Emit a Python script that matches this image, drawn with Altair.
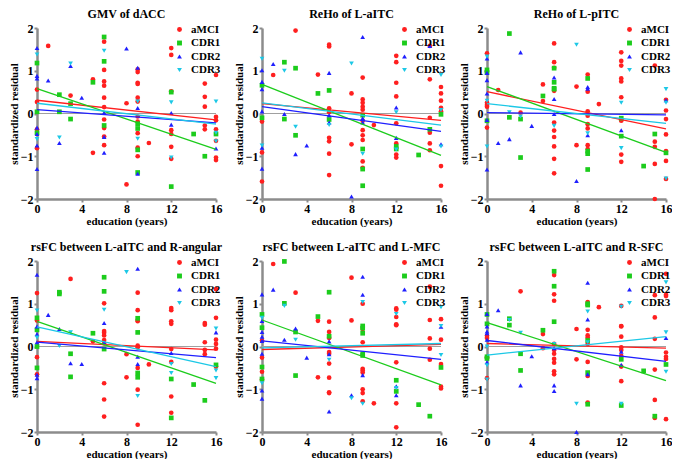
import altair as alt
import pandas as pd

groups = ["aMCI", "CDR1", "CDR2", "CDR3"]
colors = ["#ff1f1f", "#1ccc1c", "#1f1fff", "#1cc8e6"]
shapes = ["circle", "square", "triangle-up", "triangle-down"]
titles = ["GMV of dACC", "ReHo of L-aITC", "ReHo of L-pITC",
          "rsFC between L-aITC and R-angular", "rsFC between L-aITC and L-MFC",
          "rsFC between L-aITC and R-SFC"]
x_ticks = [0, 4, 8, 12, 16]
y_ticks = [-2, -1, 0, 1, 2]

# ---- Panel 1: GMV of dACC
p1_amci = [(0,0.56),(0,0.27),(0,-0.37),(0,-0.81),(1,1.58),(3,0.42),(5,0.80),(5,-0.92),(6,1.68),(6,1.02),(6,0.75),(6,0.65),(6,0.37),(6,0.15),(6,-0.14),(6,-0.34),(6,-0.54),(6,-0.74),(8,0.24),(8,-1.66),(9,1.03),(9,0.97),(9,0.72),(9,0.69),(9,0.37),(9,0.28),(9,-0.07),(9,-0.19),(9,-0.46),(9,-0.80),(9,-1.0),(10,-0.69),(12,1.53),(12,1.37),(12,0.52),(12,-0.39),(12,-0.48),(12,-0.78),(12,-1.06),(15,0.70),(15,0.39),(15,0.16),(15,-0.28),(15,-0.37),(16,0.90),(16,-0.08),(16,-0.16),(16,-0.37),(16,-0.64),(16,-1.03),(16,-1.09)]
p1_cdr1 = [(0,1.18),(0,0.04),(0,-0.45),(2,0.44),(2,0.04),(3,0.23),(3,-0.13),(5,0.73),(6,1.79),(6,1.22),(6,-0.28),(9,-0.24),(9,-0.35),(9,-0.85),(9,-1.38),(12,0.50),(12,-1.71),(14,-0.48),(15,-1.0),(16,-0.48)]
p1_cdr2 = [(0,1.53),(0,0.88),(0,0.82),(0,-0.33),(0,-0.48),(0,-0.75),(0,-1.30),(1,0.77),(2,-0.69),(3,1.11),(4,0.37),(6,0.02),(6,-0.55),(6,-0.92),(8,1.52),(9,1.07),(9,0.13),(9,-1.41),(12,0.01),(12,-0.26),(16,-0.82)]
p1_cdr3 = [(0,1.38),(0,-0.60),(2,-0.56),(3,1.17),(6,1.47),(9,0.28),(9,-0.59),(12,0.26),(12,-1.03),(16,0.28),(16,-0.45),(16,-0.65)]
p1_fit = {"aMCI": (0.31, -0.15), "CDR1": (0.58, -0.84), "CDR2": (0.09, -0.22), "CDR3": (0.24, -0.25)}

# ---- Panel 2: ReHo of L-aITC
p2_amci = [(0,-0.19),(0,-0.91),(0,-1.59),(1,0.90),(3,1.94),(5,0.91),(6,1.61),(6,1.57),(6,0.12),(6,0.03),(6,-0.57),(6,-0.65),(6,-0.94),(6,-1.44),(8,0.47),(8,-0.72),(9,0.84),(9,0.33),(9,0.25),(9,0.16),(9,0.09),(9,-0.17),(9,-0.39),(9,-0.51),(9,-0.62),(9,-1.12),(9,-1.27),(10,-0.27),(12,1.35),(12,1.20),(12,0.72),(12,0.40),(12,-0.23),(12,-0.70),(12,-0.96),(12,-1.03),(15,1.58),(15,0.80),(15,-0.10),(15,-0.45),(15,-0.70),(15,-0.86),(16,0.62),(16,0.47),(16,0.30),(16,0.13),(16,0.05),(16,-1.23),(16,-1.69)]
p2_cdr1 = [(0,0.66),(0,-0.10),(2,1.20),(2,-0.13),(3,1.06),(3,-0.51),(5,0.47),(6,0.54),(6,-0.14),(9,-0.04),(9,-0.83),(9,-1.30),(9,-1.69),(12,-0.77),(12,-0.83),(14,-0.97),(15,-0.37),(16,-0.02)]
p2_cdr2 = [(0,1.01),(0,0.74),(0,0.57),(0,0.05),(0,-0.80),(0,-1.29),(1,1.16),(2,-0.01),(3,-0.95),(4,-0.75),(6,0.95),(6,-0.04),(6,-0.21),(8,-1.94),(9,1.79),(9,-0.11),(9,-0.21),(12,0.14),(12,-0.57),(15,1.58),(16,-0.72)]
p2_cdr3 = [(0,1.28),(0,-0.75),(2,1.0),(3,-0.31),(6,-0.27),(8,1.17),(9,-0.94),(12,0.03),(12,-0.84),(16,0.90),(16,0.08),(16,-0.77)]
p2_fit = {"aMCI": (0.23, -0.16), "CDR1": (0.68, -0.98), "CDR2": (0.16, -0.42), "CDR3": (0.25, -0.27)}

# ---- Panel 3: ReHo of L-pITC
p3_amci = [(0,1.41),(0,0.25),(0,0.20),(0,0.16),(0,-0.33),(1,0.55),(3,0.02),(5,0.68),(5,0.29),(6,1.64),(6,1.20),(6,1.07),(6,0.53),(6,-0.21),(6,-0.40),(6,-0.55),(6,-0.77),(6,-1.06),(6,-1.40),(8,0.63),(8,-0.74),(9,0.91),(9,0.51),(9,0.05),(9,-0.05),(9,-0.25),(9,-0.35),(9,-0.74),(9,-0.83),(10,0.22),(12,1.43),(12,1.23),(12,1.12),(12,0.82),(12,0.75),(12,0.38),(12,-0.15),(12,-0.17),(12,-0.96),(12,-1.13),(15,1.12),(15,-0.66),(15,-0.78),(15,-1.18),(15,-2.0),(16,0.32),(16,0.07),(16,-0.13),(16,-0.49),(16,-0.88),(16,-1.11),(16,-1.53)]
p3_cdr1 = [(0,1.02),(0,0.96),(0,-0.17),(2,1.87),(2,-0.09),(3,-0.13),(3,-1.03),(5,0.41),(6,1.06),(6,0.73),(6,0.59),(6,0.57),(9,0.82),(9,-0.88),(9,-0.94),(9,-1.31),(12,-0.11),(12,-0.53),(14,-1.23),(15,-0.48),(16,-0.92)]
p3_cdr2 = [(0,1.29),(0,0.95),(0,0.78),(0,0.47),(0,-0.15),(0,-1.31),(1,-0.69),(2,-0.60),(3,1.43),(4,-0.29),(6,0.84),(6,0.34),(6,-0.01),(8,-1.58),(9,0.62),(9,0.58),(9,-0.51),(12,-0.39),(16,0.31)]
p3_cdr3 = [(0,1.33),(0,0.30),(0,-0.77),(2,0.03),(3,-0.07),(6,-0.29),(8,1.61),(9,-0.46),(12,0.25),(12,-0.81),(16,0.57),(16,0.25),(16,-1.52)]
p3_fit = {"aMCI": (0.51, -0.36), "CDR1": (0.63, -0.91), "CDR2": (0.02, -0.03), "CDR3": (0.23, -0.23)}

# ---- Panel 4: rsFC L-aITC / R-angular
p4_amci = [(0,1.25),(0,0.61),(0,-0.25),(0,-0.65),(3,1.58),(5,0.12),(6,1.01),(6,0.36),(6,0.32),(6,0.26),(6,0.15),(6,0.07),(6,-0.86),(6,-1.24),(6,-1.64),(8,-0.18),(8,-0.72),(9,1.26),(9,0.85),(9,0.62),(9,0.59),(9,0.02),(9,-0.02),(9,-0.50),(9,-1.01),(9,-1.83),(10,-0.42),(12,0.90),(12,0.85),(12,0.59),(12,0.53),(12,-0.06),(12,-0.36),(12,-1.17),(12,-1.55),(15,0.55),(15,0.51),(15,0.10),(15,-0.08),(15,-0.18),(16,1.34),(16,0.67),(16,0.16),(16,0.06),(16,-0.05),(16,-0.47)]
p4_cdr1 = [(0,0.67),(0,0.39),(0,0.0),(0,-0.50),(2,1.27),(2,1.23),(3,-0.17),(3,-0.71),(5,0.31),(6,1.62),(6,1.29),(6,-0.06),(9,0.66),(9,0.33),(9,-0.62),(9,-0.72),(12,-0.76),(12,-1.67),(14,-0.89),(15,-1.26),(16,-0.43)]
p4_cdr2 = [(0,1.68),(0,0.47),(0,0.29),(0,0.10),(0,-0.66),(0,-0.74),(1,0.74),(2,0.41),(3,-0.39),(4,-0.41),(6,0.55),(6,0.09),(9,1.82),(9,-0.24),(9,-0.41),(12,-0.15),(16,0.33)]
p4_cdr3 = [(0,0.84),(0,0.21),(2,0.01),(3,0.33),(6,0.86),(8,1.74),(9,-1.16),(12,-0.41),(12,-0.62),(16,0.42),(16,-0.56),(16,-0.74)]
p4_fit = {"aMCI": (0.12, -0.08), "CDR1": (0.59, -0.86), "CDR2": (0.10, -0.26), "CDR3": (0.46, -0.47)}

# ---- Panel 5: rsFC L-aITC / L-MFC
p5_amci = [(0,0.14),(0,-0.26),(0,-0.59),(0,-0.77),(1,1.93),(3,1.26),(5,0.60),(5,-0.72),(6,0.58),(6,0.34),(6,0.20),(6,-0.13),(6,-0.17),(6,-0.40),(6,-0.73),(6,-1.07),(6,-1.09),(8,1.61),(8,0.61),(9,1.0),(9,0.41),(9,0.10),(9,-0.52),(9,-0.56),(9,-0.61),(9,-1.0),(9,-1.09),(9,-1.28),(10,-1.33),(12,0.89),(12,0.86),(12,0.69),(12,0.52),(12,0.50),(12,-0.37),(12,-1.33),(12,-1.89),(15,1.40),(15,0.62),(15,0.19),(15,-0.05),(15,-0.31),(16,0.64),(16,0.16),(16,-0.41),(16,-0.94),(16,-0.98)]
p5_cdr1 = [(0,0.75),(0,0.44),(0,-0.48),(0,-0.76),(2,1.99),(2,1.01),(3,0.34),(3,-0.68),(5,0.70),(6,1.27),(6,0.24),(9,0.48),(9,0.43),(9,0.31),(9,-0.17),(9,-0.21),(12,-0.79),(12,-1.05),(14,-1.36),(15,-1.63),(16,-0.49)]
p5_cdr2 = [(0,1.22),(0,0.60),(0,0.34),(0,0.23),(0,0.13),(0,-0.17),(0,-1.03),(0,-1.22),(1,1.33),(2,0.16),(3,0.42),(4,-0.26),(6,0.12),(6,-0.18),(6,-1.52),(8,-1.14),(9,1.63),(9,1.21),(9,-0.67),(12,-0.93),(12,-1.14),(16,0.46)]
p5_cdr3 = [(0,0.67),(0,-0.86),(2,0.95),(3,0.16),(6,-0.31),(8,-1.21),(9,1.04),(9,-1.34),(12,0.76),(12,-0.97),(16,0.92),(16,0.48),(16,-0.20)]
p5_fit = {"aMCI": (-0.07, 0.05), "CDR1": (0.62, -0.90), "CDR2": (0.13, -0.30), "CDR3": (-0.03, 0.07)}

# ---- Panel 6: rsFC L-aITC / R-SFC
p6_amci = [(0,0.25),(0,0.20),(0,-0.26),(0,-0.74),(3,1.29),(5,0.29),(5,-0.04),(6,1.67),(6,1.22),(6,1.07),(6,0.06),(6,-0.08),(6,-0.17),(6,-0.29),(6,-0.38),(6,-0.58),(6,-0.65),(8,0.41),(8,-0.30),(9,1.04),(9,0.39),(9,0.26),(9,0.21),(9,0.06),(9,-0.36),(9,-0.69),(9,-1.31),(10,0.92),(12,0.95),(12,0.48),(12,0.47),(12,0.23),(12,-0.02),(12,-0.08),(12,-0.22),(12,-0.47),(12,-0.81),(15,1.20),(15,0.68),(15,0.18),(15,-0.54),(15,-1.25),(15,-1.67),(16,1.70),(16,1.21),(16,1.18),(16,-0.14),(16,-0.24),(16,-0.29),(16,-1.70)]
p6_cdr1 = [(0,0.75),(0,0.53),(0,-0.24),(0,-0.28),(2,0.65),(2,0.50),(3,-0.17),(3,-0.56),(5,0.38),(6,1.76),(6,1.41),(6,0.58),(9,1.0),(9,0.97),(9,0.14),(9,-0.61),(9,-1.35),(12,-0.30),(12,-1.38),(14,-0.57),(15,-1.63),(16,-0.42)]
p6_cdr2 = [(0,0.76),(0,0.47),(0,0.35),(0,0.31),(0,0.16),(0,-0.37),(1,0.85),(3,-0.91),(4,-0.23),(6,-0.04),(6,-0.91),(6,-1.04),(8,-2.0),(9,1.49),(9,0.63),(9,-0.65),(12,-0.12),(12,-0.43),(16,0.20)]
p6_cdr3 = [(0,0.0),(0,-0.44),(0,-0.77),(2,0.62),(3,0.32),(6,0.06),(8,-1.34),(9,0.82),(9,0.10),(12,0.93),(12,-1.34),(16,1.50),(16,0.33),(16,-0.59)]
p6_fit = {"aMCI": (0.07, -0.04), "CDR1": (0.56, -0.80), "CDR2": (0.14, -0.35), "CDR3": (-0.20, 0.23)}

panels = [
    ([p1_amci, p1_cdr1, p1_cdr2, p1_cdr3], p1_fit),
    ([p2_amci, p2_cdr1, p2_cdr2, p2_cdr3], p2_fit),
    ([p3_amci, p3_cdr1, p3_cdr2, p3_cdr3], p3_fit),
    ([p4_amci, p4_cdr1, p4_cdr2, p4_cdr3], p4_fit),
    ([p5_amci, p5_cdr1, p5_cdr2, p5_cdr3], p5_fit),
    ([p6_amci, p6_cdr1, p6_cdr2, p6_cdr3], p6_fit),
]

FONT = "Liberation Serif"
W, H = 179, 171

color_scale = alt.Scale(domain=groups, range=colors)
shape_scale = alt.Scale(domain=groups, range=shapes)
xenc = alt.X("x:Q", scale=alt.Scale(domain=[0, 16], nice=False),
             axis=alt.Axis(values=x_ticks, title="education (years)"))
yenc = alt.Y("y:Q", scale=alt.Scale(domain=[-2, 2], nice=False),
             axis=alt.Axis(values=y_ticks, title="standardized residual"))


def make_panel(idx):
    pts, fit = panels[idx]
    rows = []
    for g, lst in zip(groups, pts):
        for (xv, yv) in lst:
            rows.append({"x": xv, "y": yv, "group": g})
    df = pd.DataFrame(rows)
    lrows = []
    for g in groups:
        y0, y1 = fit[g]
        lrows.append({"x": 0, "y": y0, "group": g})
        lrows.append({"x": 16, "y": y1, "group": g})
    ldf = pd.DataFrame(lrows)
    zero = pd.DataFrame({"x": [0, 16], "y": [0, 0]})

    zl = alt.Chart(zero).mark_line(color="#a0a0a0", strokeWidth=1).encode(x=xenc, y=yenc)
    lines = alt.Chart(ldf).mark_line(strokeWidth=1.3).encode(
        x=xenc, y=yenc,
        color=alt.Color("group:N", scale=color_scale, legend=None),
        detail="group:N")
    leg = alt.Legend(title=None, orient="none", legendX=W - 42, legendY=-4,
                     padding=0, offset=0,
                     labelFont=FONT, labelFontWeight="bold", labelFontSize=11,
                     symbolSize=24, rowPadding=1.5, symbolStrokeWidth=0, labelOffset=6)
    points = alt.Chart(df).mark_point(filled=True, size=22, opacity=1).encode(
        x=xenc, y=yenc,
        color=alt.Color("group:N", scale=color_scale, legend=leg),
        shape=alt.Shape("group:N", scale=shape_scale, legend=leg))
    return alt.layer(zl, points, lines).properties(
        width=W, height=H,
        title=alt.TitleParams(titles[idx], font=FONT, fontWeight="bold", fontSize=12,
                              offset=1, frame="group"))


chart = alt.concat(*[make_panel(i) for i in range(6)], columns=3,
                   spacing={"row": 62, "column": 46}, bounds="flush").resolve_legend(
    color="independent", shape="independent").configure_axis(
    grid=False, domainColor="#8c8c8c", domainWidth=2.5, tickColor="#8c8c8c",
    tickWidth=2, tickSize=3, labelFont=FONT, labelFontWeight="bold", labelFontSize=12,
    labelColor="black", titleFont=FONT, titleFontWeight="bold", titleFontSize=11,
    titleColor="black", labelPadding=1, titlePadding=1, labelFlush=False
).configure_view(stroke=None).properties(padding={"left": 0, "top": 0, "right": 0, "bottom": 0})

chart.save("out.html", embed_options={"renderer": "svg", "actions": False})
